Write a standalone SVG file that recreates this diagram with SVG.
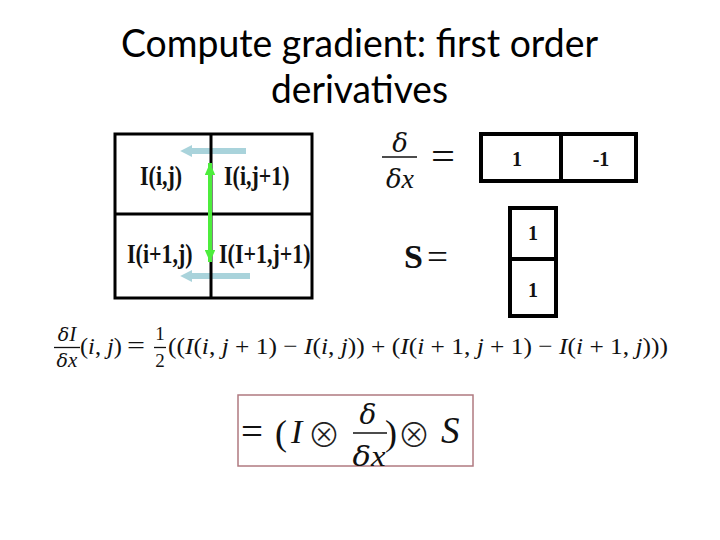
<svg xmlns="http://www.w3.org/2000/svg" width="720" height="540" viewBox="0 0 720 540">
<style>
.title{font-family:Lato,"Open Sans","Liberation Sans",sans-serif;font-size:39px;fill:#000}
.lab{font-family:"Liberation Serif","Times New Roman",serif;font-weight:bold;font-size:22px;fill:#111}
.num{font-family:"Liberation Serif","Times New Roman",serif;font-weight:bold;font-size:20px;fill:#111}
.m{font-family:"Liberation Serif","DejaVu Serif",serif;fill:#111}
.it{font-style:italic}
.gk{font-family:"DejaVu Serif",serif;font-style:italic}
.op{font-family:"Noto Sans CJK JP","Noto Sans CJK SC","DejaVu Sans",sans-serif;font-weight:300;fill:#222}
.box{fill:#fff;stroke:#000}
.bar{stroke:#111;stroke-width:1.3}
</style>
<defs>
<marker id="blueHead" markerWidth="2" markerHeight="2" refX="0.2" refY="1" orient="auto" markerUnits="strokeWidth">
<path d="M0,0 L2,1 L0,2 Z" fill="#a9d3db"/>
</marker>
<marker id="greenHead" markerWidth="3" markerHeight="2.6" refX="3" refY="1.3" orient="auto-start-reverse" markerUnits="strokeWidth">
<path d="M0,0 L3,1.3 L0,2.6 Z" fill="#4ded3c"/>
</marker>
<clipPath id="clipTop"><rect x="370" y="132" width="60" height="40"/></clipPath>
</defs>
<rect width="720" height="540" fill="#fff"/>

<g id="title">
<text class="title" x="121" y="57" textLength="477" lengthAdjust="spacingAndGlyphs">Compute gradient: first order</text>
<text class="title" x="271" y="103" textLength="177" lengthAdjust="spacingAndGlyphs">derivatives</text>
</g>

<g id="connectors-back">
<line x1="246" y1="151" x2="191" y2="151" stroke="#a9d3db" stroke-width="6" marker-end="url(#blueHead)"/>
<line x1="250" y1="276" x2="191" y2="276" stroke="#a9d3db" stroke-width="6" marker-end="url(#blueHead)"/>
</g>

<g id="grid">
<rect x="115" y="134" width="197" height="164" fill="none" stroke="#000" stroke-width="3"/>
<line x1="211" y1="134" x2="211" y2="298" stroke="#000" stroke-width="3"/>
<line x1="115" y1="214" x2="312" y2="214" stroke="#000" stroke-width="3"/>
</g>
<g id="cell-ij"><text class="lab" transform="translate(140,185) scale(1,1.2)">I(i,j)</text></g>
<g id="cell-ij1"><text class="lab" transform="translate(224,185) scale(1,1.2)">I(i,j+1)</text></g>
<g id="cell-i1j"><text class="lab" transform="translate(127,263) scale(1,1.2)">I(i+1,j)</text></g>
<g id="cell-i1j1"><text class="lab" transform="translate(219,263) scale(1,1.2)">I(I+1,j+1)</text></g>

<g id="connectors">
<line x1="210" y1="163" x2="210" y2="262" stroke="#4ded3c" stroke-width="4" marker-start="url(#greenHead)" marker-end="url(#greenHead)"/>
</g>

<g id="deriv-label">
<text class="m gk" x="400" y="152" font-size="26" text-anchor="middle" clip-path="url(#clipTop)">δ</text>
<line class="bar" x1="382" y1="157" x2="417" y2="157" stroke-width="1.5"/>
<text class="m it" x="400" y="188" font-size="28" text-anchor="middle"><tspan class="gk" font-size="26">δ</tspan>x</text>
<text class="m" x="431" y="170" font-size="40" textLength="24" lengthAdjust="spacingAndGlyphs">=</text>
</g>

<g id="deriv-kernel">
<rect class="box" x="481" y="134" width="155" height="47" stroke-width="4"/>
<line x1="561" y1="134" x2="561" y2="181" stroke="#000" stroke-width="4"/>
<text class="num" x="517" y="166" text-anchor="middle">1</text>
<text class="num" x="601" y="166" text-anchor="middle">-1</text>
</g>

<g id="s-label">
<text x="404" y="268" font-family="Liberation Serif,serif" font-weight="bold" font-size="34" fill="#111">S</text>
<text class="m" x="427" y="269" font-size="36" textLength="21" lengthAdjust="spacingAndGlyphs">=</text>
</g>

<g id="s-kernel">
<rect class="box" x="510" y="208" width="46" height="108" stroke-width="4"/>
<line x1="510" y1="259" x2="556" y2="259" stroke="#000" stroke-width="4"/>
<text class="num" x="533" y="240" text-anchor="middle">1</text>
<text class="num" x="533" y="297" text-anchor="middle">1</text>
</g>

<g id="equation">
<text class="m it" x="67" y="341" font-size="21" text-anchor="middle"><tspan class="gk" font-size="19">δ</tspan>I</text>
<line class="bar" x1="54" y1="347.5" x2="80" y2="347.5"/>
<text class="m it" x="67" y="367" font-size="21" text-anchor="middle"><tspan class="gk" font-size="19">δ</tspan>x</text>
<text class="m" x="80" y="354" font-size="24" textLength="42" lengthAdjust="spacingAndGlyphs">(<tspan class="it">i</tspan>, <tspan class="it">j</tspan>)</text>
<text class="m" x="127" y="354" font-size="26" textLength="18" lengthAdjust="spacingAndGlyphs">=</text>
<text class="m" x="160" y="340" font-size="19" text-anchor="middle">1</text>
<line class="bar" x1="154" y1="347.5" x2="166" y2="347.5"/>
<text class="m" x="160" y="367" font-size="19" text-anchor="middle">2</text>
<text class="m" x="168" y="354" font-size="24" textLength="500" lengthAdjust="spacingAndGlyphs">((<tspan class="it">I</tspan>(<tspan class="it">i</tspan>, <tspan class="it">j</tspan> + 1) − <tspan class="it">I</tspan>(<tspan class="it">i</tspan>, <tspan class="it">j</tspan>)) + (<tspan class="it">I</tspan>(<tspan class="it">i</tspan> + 1, <tspan class="it">j</tspan> + 1) − <tspan class="it">I</tspan>(<tspan class="it">i</tspan> + 1, <tspan class="it">j</tspan>)))</text>
</g>

<g id="result">
<rect x="238" y="395" width="235" height="71" fill="none" stroke="#b07a80" stroke-width="1.5"/>
<text class="m" x="241" y="444" font-size="38" textLength="22" lengthAdjust="spacingAndGlyphs">=</text>
<text class="m" x="275" y="445" font-size="36">(</text>
<text class="m it" x="291" y="443" font-size="34">I</text>
<text class="op" x="324" y="447" font-size="33" text-anchor="middle">⊗</text>
<text class="m gk" x="368" y="424" font-size="28" text-anchor="middle">δ</text>
<line class="bar" x1="353" y1="433" x2="387" y2="433" stroke-width="1.5"/>
<text class="m it" x="369" y="466" font-size="30" text-anchor="middle" textLength="33" lengthAdjust="spacingAndGlyphs"><tspan class="gk" font-size="28">δ</tspan>x</text>
<text class="m" x="385" y="445" font-size="36">)</text>
<text class="op" x="414" y="447" font-size="33" text-anchor="middle">⊗</text>
<text class="m it" x="441" y="443" font-size="37">S</text>
</g>
</svg>
